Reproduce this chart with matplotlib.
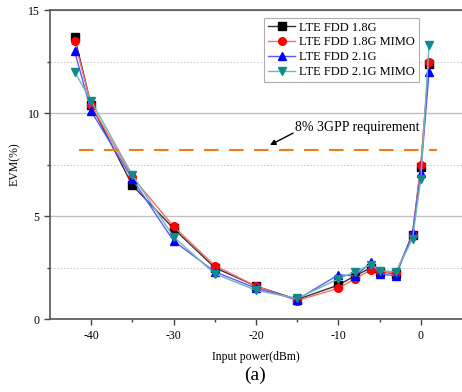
import matplotlib.pyplot as plt
import numpy as np

plt.rcParams["font.family"] = ["Liberation Serif", "DejaVu Serif"]
plt.rcParams["axes.unicode_minus"] = False

power = [-42, -40, -35, -30, -25, -20, -15, -10, -8, -6, -5, -3, -1, 0, 1]
evm_18 = [13.7, 10.4, 6.5, 4.4, 2.5, 1.6, 0.95, 1.65, 2.1, 2.5, 2.3, 2.2, 4.1, 7.4, 12.4]
evm_18_mimo = [13.5, 10.4, 6.9, 4.5, 2.6, 1.6, 0.9, 1.5, 1.95, 2.4, 2.3, 2.25, 4.1, 7.5, 12.5]
evm_21 = [13.0, 10.1, 6.8, 3.8, 2.3, 1.5, 0.95, 2.15, 2.1, 2.75, 2.2, 2.1, 4.2, 7.1, 12.0]
evm_21_mimo = [12.0, 10.6, 7.0, 4.0, 2.2, 1.4, 1.0, 1.95, 2.3, 2.65, 2.35, 2.3, 3.9, 6.8, 13.3]
labels = ["LTE FDD 1.8G", "LTE FDD 1.8G MIMO", "LTE FDD 2.1G", "LTE FDD 2.1G MIMO"]
requirement = 8.2

fig = plt.figure(figsize=(4.62, 3.92), dpi=100)
ax = fig.add_axes([0.108, 0.186, 0.892, 0.788])

series = [
    (evm_18, "s", "black", "#333333"),
    (evm_18_mimo, "o", "red", "#ff6a6a"),
    (evm_21, "^", "blue", "#5a5aff"),
    (evm_21_mimo, "v", "#118a8a", "#6fb8b8"),
]
for (vals, mk, mc, lc), lab in zip(series, labels):
    ax.plot(power, vals, color=lc, linewidth=1, marker=mk, markersize=5.5,
            markerfacecolor=mc, markeredgecolor=mc, label=lab)

ax.plot([-41.5, 2], [requirement, requirement], color="#f07d1a", linewidth=1.5,
        dashes=(7, 5))
ax.annotate("", xy=(-18.3, 8.45), xytext=(-15.5, 9.03),
            arrowprops=dict(arrowstyle="-|>", color="black", lw=1, mutation_scale=8,
                            shrinkA=0, shrinkB=0))
ax.text(-15.3, 9.3, "8% 3GPP requirement", fontsize=10, va="center", ha="left")

ax.set_xlim(-45, 5)
ax.set_ylim(0, 15)
ax.set_xticks([-40, -30, -20, -10, 0])
ax.set_xticks([-35, -25, -15, -5], minor=True)
ax.set_yticks([0, 5, 10, 15])
ax.set_yticks([2.5, 7.5, 12.5], minor=True)
ax.yaxis.grid(True, which="major", color="#c0c0c0", linewidth=1)
ax.yaxis.grid(True, which="minor", color="#d0d0d0", linewidth=0.8, linestyle=(0, (1.5, 1.5)))
ax.set_axisbelow(True)
ax.tick_params(which="both", direction="out", color="#444444", labelsize=8.5, width=1)
ax.tick_params(which="major", length=4)
ax.tick_params(which="minor", length=2.5)
ax.spines["right"].set_visible(False)
for s in ["left", "bottom", "top"]:
    ax.spines[s].set_color("#555555")
    ax.spines[s].set_linewidth(1.2)

ax.set_ylabel("EVM(%)", fontsize=8.5, labelpad=5)
ax.set_xlabel("Input power(dBm)", fontsize=8.5, labelpad=7)
fig.text(0.552, 0.043, "(a)", fontsize=14, ha="center", va="center")

leg = ax.legend(loc="upper left", bbox_to_anchor=(0.52, 0.975), fontsize=9,
                frameon=True, fancybox=False, handlelength=2.2, borderpad=0.3,
                labelspacing=0.22, handletextpad=0.3, borderaxespad=0)
leg.get_frame().set_edgecolor("#999999")
leg.get_frame().set_linewidth(0.8)

fig.savefig("out.png", dpi=100)
